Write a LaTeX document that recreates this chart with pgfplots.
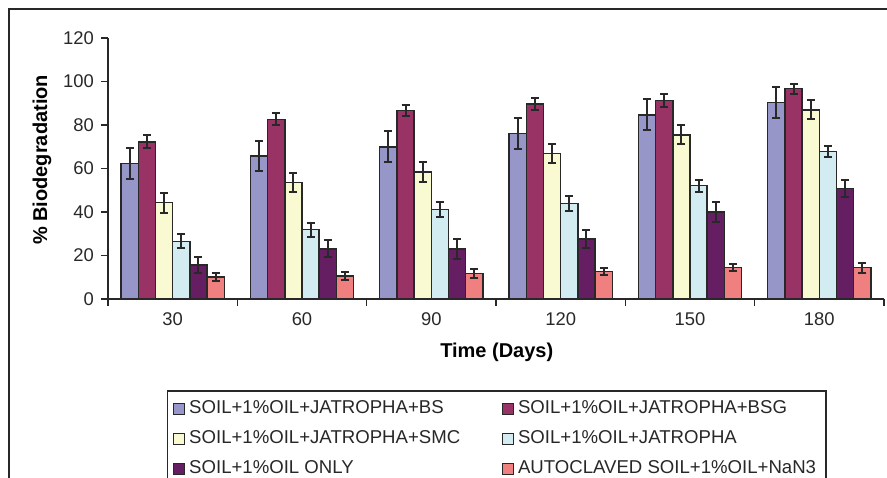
\documentclass[border=0pt]{standalone}
\usepackage{pgfplots}
\usepackage{pgfplotstable}
\pgfplotsset{compat=1.18}
\usepackage{fontspec}
\setmainfont{Liberation Sans}
\definecolor{cBS}{RGB}{150,150,200}
\definecolor{cBSG}{RGB}{153,51,102}
\definecolor{cSMC}{RGB}{250,250,210}
\definecolor{cJAT}{RGB}{210,236,242}
\definecolor{cONLY}{RGB}{101,30,98}
\definecolor{cNAN}{RGB}{240,127,127}
\definecolor{ink}{RGB}{40,40,40}
\pgfplotstableread{
x bs bse bsg bsge smc smce jat jate only onlye nan nane
0 62.4 7.0 72.2 3.0 44.3 4.6 26.5 3.2 15.6 3.7 10.1 1.7
1 65.7 7.0 82.6 2.8 53.6 4.4 31.9 3.2 23.1 3.9 10.6 1.8
2 70.0 7.2 86.6 2.6 58.5 4.5 41.1 3.3 23.1 4.5 11.8 2.1
3 76.0 7.2 89.7 2.9 66.8 4.5 43.8 3.4 27.6 4.3 12.7 1.7
4 84.7 7.2 91.3 2.8 75.5 4.4 52.1 2.8 40.0 4.4 14.4 1.7
5 90.3 7.0 96.7 2.3 87.0 4.3 67.9 2.6 50.9 3.8 14.4 2.3
}\data
\begin{document}
\begin{tikzpicture}
\useasboundingbox (0,0) rectangle (443.5pt,238.5pt);
\draw[ink, line width=0.75pt] (4.5pt,-5pt) -- (4.5pt,234pt) -- (450pt,234pt);
\begin{axis}[
  at={(54pt,89pt)}, anchor=south west,
  scale only axis, width=388pt, height=130.5pt,
  xmin=-0.5, xmax=5.5, ymin=0, ymax=120,
  axis lines*=left,
  axis line style={ink, line width=0.75pt},
  ybar=0pt, bar width=8.6pt,
  xtick={0,...,5}, xticklabels={30,60,90,120,150,180},
  minor xtick={-0.5,0.5,...,5.5},
  ytick={0,20,...,120},
  tick align=outside,
  major x tick style={draw=none},
  minor x tick style={ink, line width=0.75pt},
  minor tick length=3.5pt,
  y tick style={ink, line width=0.75pt},
  major tick length=3.5pt,
  /pgf/number format/assume math mode=true,
  tick label style={font=\fontsize{9.2}{11}\selectfont, text=ink},
  xlabel={\textbf{Time (Days)}},
  ylabel={\textbf{\% Biodegradation}},
  label style={font=\fontsize{9}{11}\selectfont, text=ink},
  every axis x label/.style={at={(axis description cs:0.501,-0.203)}, anchor=center},
  every axis y label/.style={at={(axis description cs:-0.085,0.533)}, anchor=center, rotate=90},
  every axis plot/.append style={draw=ink, line width=0.75pt,
     error bars/y dir=both, error bars/y explicit,
     error bars/error bar style={ink, line width=1pt},
     error bars/error mark options={ink, line width=1pt, mark size=2pt, rotate=90}},
  legend columns=2,
  legend style={at={(axis description cs:0.0756,-0.3487)}, anchor=north west,
     draw=ink, line width=0.75pt, font=\fontsize{9.3}{11}\selectfont, text=ink,
     row sep=3pt, inner sep=3pt,
     /tikz/every even column/.append style={column sep=19pt}},
  legend cell align=left,
  legend image code/.code={\draw[#1, line width=0.5pt] (0pt,-2.7pt) rectangle (5.4pt,2.7pt);},
]
\addplot[fill=cBS] table[x=x,y=bs,y error=bse]{\data};
\addplot[fill=cBSG] table[x=x,y=bsg,y error=bsge]{\data};
\addplot[fill=cSMC] table[x=x,y=smc,y error=smce]{\data};
\addplot[fill=cJAT] table[x=x,y=jat,y error=jate]{\data};
\addplot[fill=cONLY] table[x=x,y=only,y error=onlye]{\data};
\addplot[fill=cNAN] table[x=x,y=nan,y error=nane]{\data};
\legend{SOIL+1\%OIL+JATROPHA+BS, SOIL+1\%OIL+JATROPHA+BSG, SOIL+1\%OIL+JATROPHA+SMC, SOIL+1\%OIL+JATROPHA, SOIL+1\%OIL ONLY, AUTOCLAVED SOIL+1\%OIL+NaN3}
\end{axis}
\end{tikzpicture}
\end{document}
